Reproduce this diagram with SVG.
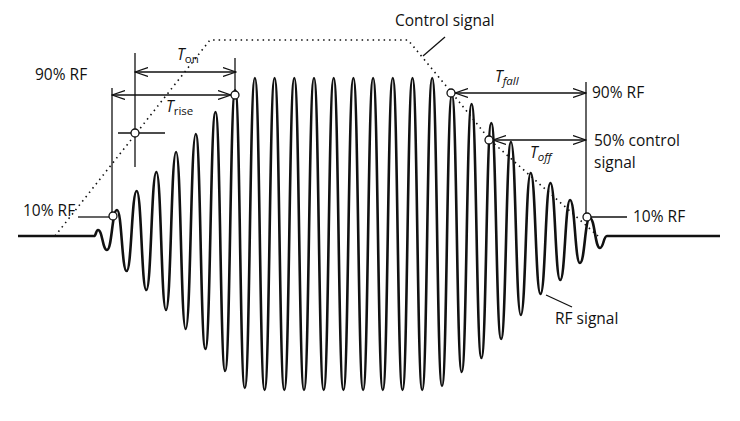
<svg xmlns="http://www.w3.org/2000/svg" width="740" height="421" viewBox="0 0 740 421">
<style>
.t{font-family:"Open Sans","Liberation Sans",sans-serif;font-size:15.5px;fill:#111}
.i{font-style:italic}
.s{font-size:11.5px}
.ln{stroke:#111;stroke-width:1.3;fill:none}
.c{fill:#fff;stroke:#111;stroke-width:1.3}
</style>
<defs>
<marker id="a" markerWidth="14" markerHeight="10" refX="13" refY="5" orient="auto-start-reverse" markerUnits="userSpaceOnUse">
<path d="M0,0.5 L13,5 L0,9.5" fill="none" stroke="#111" stroke-width="1.2"/>
</marker>
</defs>
<rect width="740" height="421" fill="#fff"/>
<g id="control">
<polyline points="55,236 210,40 408,40 452,93 490,140 598,236" fill="none" stroke="#111" stroke-width="1.6" stroke-dasharray="1.5,4"/>
</g>
<g id="rf">
<path fill="none" stroke="#111" stroke-width="2.6" d="M18,236 L94,236
C96,236 96,230 98,230
C102.5,230 102.5,250 107,250
C112,250 112,210 117,210
C121.8,210 121.8,271 126.6,271
C131.65,271 131.65,191 136.7,191
C141.5,191 141.5,290 146.3,290
C151.35,290 151.35,172 156.4,172
C161.2,172 161.2,310 166,310
C171.05,310 171.05,152 176.1,152
C180.9,152 180.9,329 185.7,329
C190.75,329 190.75,134 195.8,134
C200.6,134 200.6,349 205.4,349
C210.45,349 210.45,112 215.5,112
C220.3,112 220.3,371 225.1,371
C230.15,371 230.15,90 235.2,90
C240,90 240,388 244.8,388
C249.85,388 249.85,78 254.9,78
C259.75,78 259.75,390 264.6,390
C269.6,390 269.6,78 274.6,78
C279.45,78 279.45,390 284.3,390
C289.3,390 289.3,78 294.3,78
C299.15,78 299.15,390 304,390
C309,390 309,78 314,78
C318.85,78 318.85,390 323.7,390
C328.7,390 328.7,78 333.7,78
C338.55,78 338.55,390 343.4,390
C348.4,390 348.4,78 353.4,78
C358.25,78 358.25,390 363.1,390
C368.1,390 368.1,78 373.1,78
C377.95,78 377.95,390 382.8,390
C387.8,390 387.8,78 392.8,78
C397.65,78 397.65,390 402.5,390
C407.5,390 407.5,78 412.5,78
C417.35,78 417.35,390 422.2,390
C427.2,390 427.2,78 432.2,78
C437.1,78 437.1,386 442,386
C446.95,386 446.95,95 451.9,95
C456.8,95 456.8,372 461.7,372
C466.65,372 466.65,104 471.6,104
C476.5,104 476.5,358 481.4,358
C486.35,358 486.35,123 491.3,123
C496.2,123 496.2,339 501.1,339
C506.05,339 506.05,142 511,142
C515.9,142 515.9,315 520.8,315
C525.75,315 525.75,173 530.7,173
C535.6,173 535.6,294 540.5,294
C545.45,294 545.45,183 550.4,183
C555.3,183 555.3,280 560.2,280
C565.15,280 565.15,200 570.1,200
C575,200 575,263 579.9,263
C584.85,263 584.85,218 589.8,218
C594.9,218 594.9,248 600,248
C603.5,248 603.5,236 607,236
L720,236"/>
</g>
<g id="connectors">
<line class="ln" x1="112" y1="88" x2="112" y2="212"/>
<line class="ln" x1="78" y1="217" x2="109" y2="217"/>
<line class="ln" x1="235" y1="58" x2="235" y2="91"/>
<line class="ln" x1="135" y1="53" x2="135" y2="167"/>
<line class="ln" x1="118" y1="133" x2="165" y2="133"/>
<line class="ln" x1="112" y1="95" x2="231" y2="95" marker-start="url(#a)" marker-end="url(#a)"/>
<line class="ln" x1="135" y1="72" x2="236" y2="72" marker-start="url(#a)" marker-end="url(#a)"/>
<line class="ln" x1="586" y1="82" x2="586" y2="213"/>
<line class="ln" x1="591" y1="217" x2="627" y2="217"/>
<line class="ln" x1="455" y1="93" x2="586" y2="93" marker-start="url(#a)" marker-end="url(#a)"/>
<line class="ln" x1="493" y1="140" x2="586" y2="140" marker-start="url(#a)" marker-end="url(#a)"/>
<line class="ln" x1="445" y1="37" x2="423" y2="56"/>
<line class="ln" x1="546" y1="295" x2="572" y2="307"/>
<circle class="c" cx="113" cy="216" r="4"/>
<circle class="c" cx="235" cy="95" r="4"/>
<circle class="c" cx="135" cy="133" r="4"/>
<circle class="c" cx="451" cy="93" r="4"/>
<circle class="c" cx="489" cy="140" r="4"/>
<circle class="c" cx="587" cy="217" r="4"/>
</g>
<g id="labels">
<text class="t" x="35" y="80">90% RF</text>
<text class="t" x="23" y="216">10% RF</text>
<text class="t" x="177" y="60"><tspan class="i">T</tspan><tspan class="s" dy="3">on</tspan></text>
<text class="t" x="166" y="112"><tspan class="i">T</tspan><tspan class="s" dy="3">rise</tspan></text>
<text class="t" x="395" y="26">Control signal</text>
<text class="t" x="495" y="82"><tspan class="i">T</tspan><tspan class="s i" dy="3">fall</tspan></text>
<text class="t" x="592" y="98">90% RF</text>
<text class="t" x="594" y="146">50% control</text>
<text class="t" x="594" y="168">signal</text>
<text class="t" x="530" y="158"><tspan class="i">T</tspan><tspan class="s i" dy="3">off</tspan></text>
<text class="t" x="633" y="222">10% RF</text>
<text class="t" x="555" y="324">RF signal</text>
</g>
</svg>
